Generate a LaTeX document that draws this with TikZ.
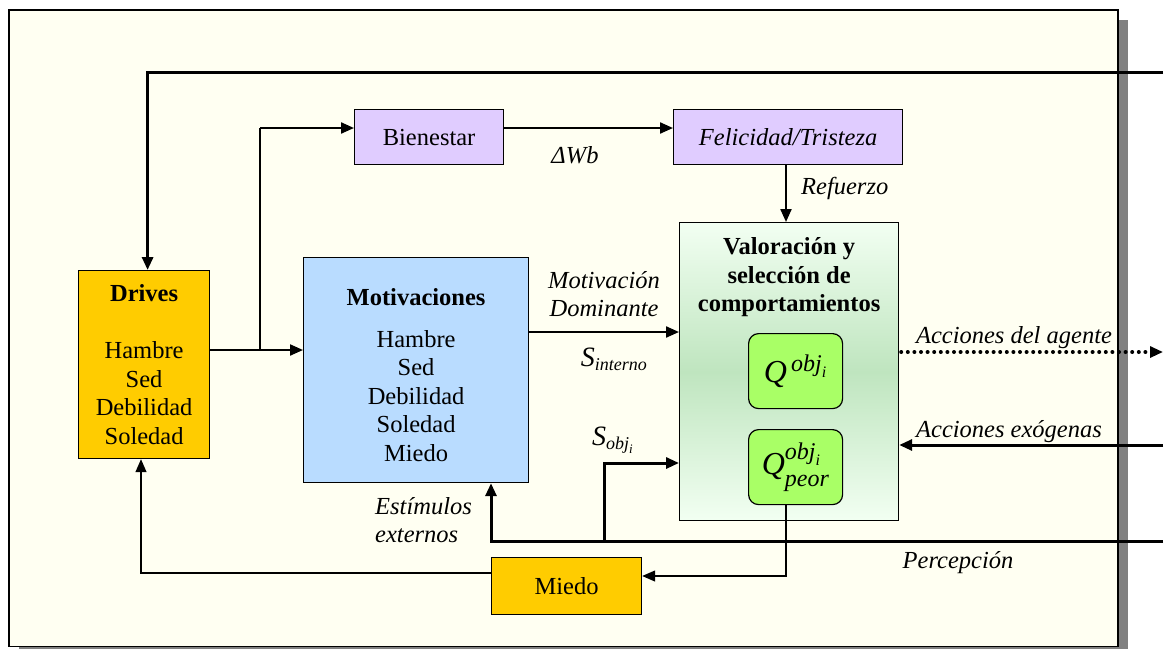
\documentclass[tikz,border=0pt]{standalone}
\usepackage{amsmath}
\usepackage{fontspec}
\setmainfont{Liberation Serif}
\usetikzlibrary{arrows.meta}

\definecolor{paper}{HTML}{FFFFF2}
\definecolor{drivefill}{HTML}{FFCC00}
\definecolor{motivfill}{HTML}{B9DCFF}
\definecolor{lilac}{HTML}{E0CCFF}
\definecolor{qgreen}{HTML}{A9FF66}
\definecolor{valtop}{HTML}{F2FFF2}
\definecolor{valmid}{HTML}{BFE5BF}
\definecolor{shadowgray}{HTML}{808080}

\DeclareMathSizes{32}{32}{24}{16}
\DeclareMathSizes{28}{28}{18}{13}

\newcommand{\txt}{\fontsize{24.5}{28.5}\selectfont}
\newcommand{\qsize}{\fontsize{32}{36}\selectfont}
\newcommand{\ssize}{\fontsize{28}{32}\selectfont}

\begin{document}
\begin{tikzpicture}[x=1pt,y=-1pt,
  box/.style={draw, line width=1.2pt, inner sep=0pt, anchor=north west,
    align=center, font=\txt},
  tip/.style={-{Triangle[length=13pt,width=11pt]}},
  heavy/.style={line width=3pt},
  medium/.style={line width=2.2pt},
  light/.style={line width=1.3pt},
  dots/.style={line width=4pt, line cap=round, dash pattern=on 0pt off 6.6pt},
  lbl/.style={font=\txt\itshape, inner sep=0pt, align=center}
]
\useasboundingbox (0,0) rectangle (1165,649);

% sheet with its drop shadow
\fill[shadowgray] (19,20) rectangle (1128,649);
\draw[line width=1.5pt, fill=paper] (9,10) rectangle (1118,646.5);

% blocks
\node[box, fill=drivefill, minimum width=131pt, minimum height=188pt] (drives) at (78,270)
  {\textbf{Drives}\\[28.5pt]Hambre\\Sed\\Debilidad\\Soledad};
\node[box, fill=motivfill, minimum width=225pt, minimum height=225pt] (motiv) at (303,257) {};
\node[font=\txt, align=center, inner sep=0pt] (motivtxt) at ([yshift=-5pt]motiv.center)
  {\textbf{Motivaciones}\\[13pt]Hambre\\Sed\\Debilidad\\Soledad\\Miedo};
\node[box, fill=lilac, minimum width=149pt, minimum height=55pt] (bien) at (354,109) {Bienestar};
\node[box, fill=lilac, minimum width=229pt, minimum height=55pt] (feli) at (673,109)
  {\itshape Felicidad/Tristeza};
\node[box, top color=valtop, bottom color=valtop, middle color=valmid,
  minimum width=219pt, minimum height=298pt] (val) at (679,222) {};
\node[font=\txt\bfseries, align=center, anchor=north, inner sep=0pt] (valtitle)
  at ([yshift=-15.5pt]val.north) {Valoración y\\selección de\\comportamientos};
\node[box, rounded corners=10pt, fill=qgreen, minimum width=94pt, minimum height=75pt,
  font=\qsize] (q1) at (748,333) {$\textit{Q}^{\,\textit{obj}_{\textit{i}}}$};
\node[box, rounded corners=10pt, fill=qgreen, minimum width=94pt, minimum height=75pt,
  font=\qsize] (q2) at (748,429)
  {$\textit{Q}^{\textit{obj}_{\textit{i}}}_{\vphantom{\textit{l}}\textit{peor}}$};
\node[box, fill=drivefill, minimum width=150pt, minimum height=57pt] (miedo) at (491,557) {Miedo};

% routing points
\coordinate (topR) at (1163,72);
\coordinate (dm) at (260,350);
\coordinate (bj) at (260,128);
\coordinate (rf) at (786,0);
\coordinate (md) at (0,332);
\coordinate (sl) at (0,463);
\coordinate (perc) at (491,541);
\coordinate (sj) at (604,541);
\coordinate (percR) at (1163,541);
\coordinate (agR) at (1163,352);
\coordinate (exR) at (1163,445);
\coordinate (qp) at (786,576);
\coordinate (fd) at (141,573);

% connectors
\draw[heavy, tip] (topR) -| ([xshift=3.5pt]drives.north);
\draw[medium, tip] (drives.east |- dm) -- (motiv.west |- dm);
\draw[light] (dm) -- (bj);
\draw[medium, tip] (bj) -- (bien.west |- bj);
\draw[medium, tip] (bien.east |- bj) -- (feli.west |- bj);
\draw[medium, tip] (feli.south -| rf) -- (val.north -| rf);
\draw[medium, tip] (motiv.east |- md) -- (val.west |- md);
\draw[heavy, tip] (percR) -- (perc) -- (motiv.south -| perc);
\draw[heavy, tip] (sj) |- (val.west |- sl);
\draw[dots] ([xshift=2pt]val.east |- agR) -- ([xshift=-8pt]agR);
\draw[heavy, tip] ([xshift=-8pt]agR) -- (agR);
\draw[heavy, tip] (exR) -- (val.east |- exR);
\draw[light, tip] (q2.south -| qp) -- (qp) -- (miedo.east |- qp);
\draw[light, tip] (miedo.west |- fd) -- (fd) -- (drives.south -| fd);

% labels
\node[lbl] (dwb) at (575,155) {ΔWb};
\node[lbl, anchor=west] (refuerzo) at (801,188) {Refuerzo};
\node[lbl] (motdom) at (604,294) {Motivación\\Dominante};
\node[lbl, font=\ssize\itshape] (sint) at (614,359) {$\textit{S}_{\textit{interno}}$};
\node[lbl, font=\ssize\itshape] (sobj) at (613,440) {$\textit{S}_{\textit{obj}_{\textit{i}}}$};
\node[lbl, align=left, anchor=west] (estim) at (375,520) {Estímulos\\externos};
\node[lbl] (percep) at (958,563) {Percepción};
\node[lbl] (agente) at (1014,338) {Acciones del agente};
\node[lbl] (exog) at (1009,432) {Acciones exógenas};
\end{tikzpicture}
\end{document}
